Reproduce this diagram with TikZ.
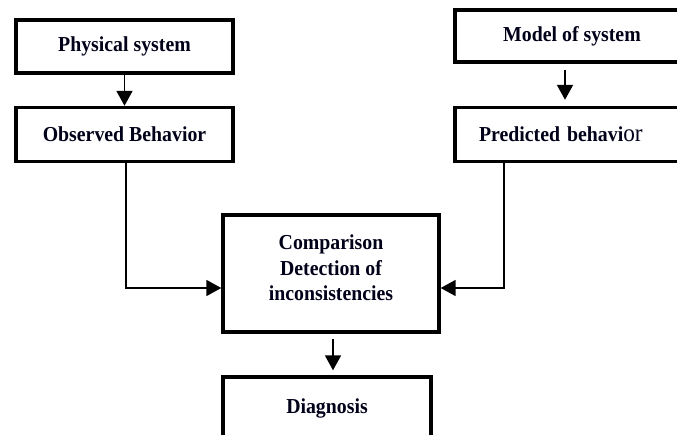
\documentclass[tikz,border=0pt]{standalone}
\usepackage{fontspec}
\setmainfont{Liberation Serif}[FakeStretch=0.93]
\usetikzlibrary{arrows.meta,positioning,calc}
\tikzset{
  box/.style={draw=black, line width=3.4pt, rectangle, inner sep=0pt,
    font=\fontsize{21.3}{25.5}\selectfont\bfseries, text=black!90!blue, align=center},
  conn/.style={draw=black, line width=1.8pt},
  arr/.style={conn, -{Triangle[length=15pt,width=16pt]}},
}
\begin{document}
\begin{tikzpicture}[x=1pt,y=-1pt]
\useasboundingbox (0,0) rectangle (677,435);
\clip (0,0) rectangle (677,435);
\node[box, minimum width=217pt, minimum height=53pt] (phys) at (124.5,46.5) {Physical system};
\node[box, minimum width=217pt, minimum height=54pt] (obs) at (124.5,134.5) {Observed Behavior};
\node[box, minimum width=234pt, minimum height=52pt] (model) at (572,36) {Model of system};
\node[box, minimum height=54pt, inner xsep=24pt, text width=186pt, align=left] (pred) at (572,134.5)
  {Predicted behavi{\fontsize{25}{25}\selectfont\mdseries or}};
\node[box, minimum width=216pt, minimum height=117pt, text depth=11pt] (comp) at (331,273.5)
  {Comparison\\Detection of\\inconsistencies};
\node[box, minimum width=208pt, minimum height=62pt] (diag) at (327,408) {Diagnosis};

\draw[arr] (phys.south) -- (obs.north);
\draw[arr, shorten <=6pt, shorten >=6pt] ([xshift=-7pt]model.south) -- ([xshift=-7pt]pred.north);
\draw[arr] ([xshift=1.5pt]obs.south) |- ([yshift=-14.5pt]comp.west);
\draw[arr] ([xshift=51pt]pred.south west) |- ([yshift=-14.5pt]comp.east);
\draw[arr, shorten <=5pt, shorten >=5pt] ([xshift=2pt]comp.south) -- ([xshift=6pt]diag.north);
\end{tikzpicture}
\end{document}
